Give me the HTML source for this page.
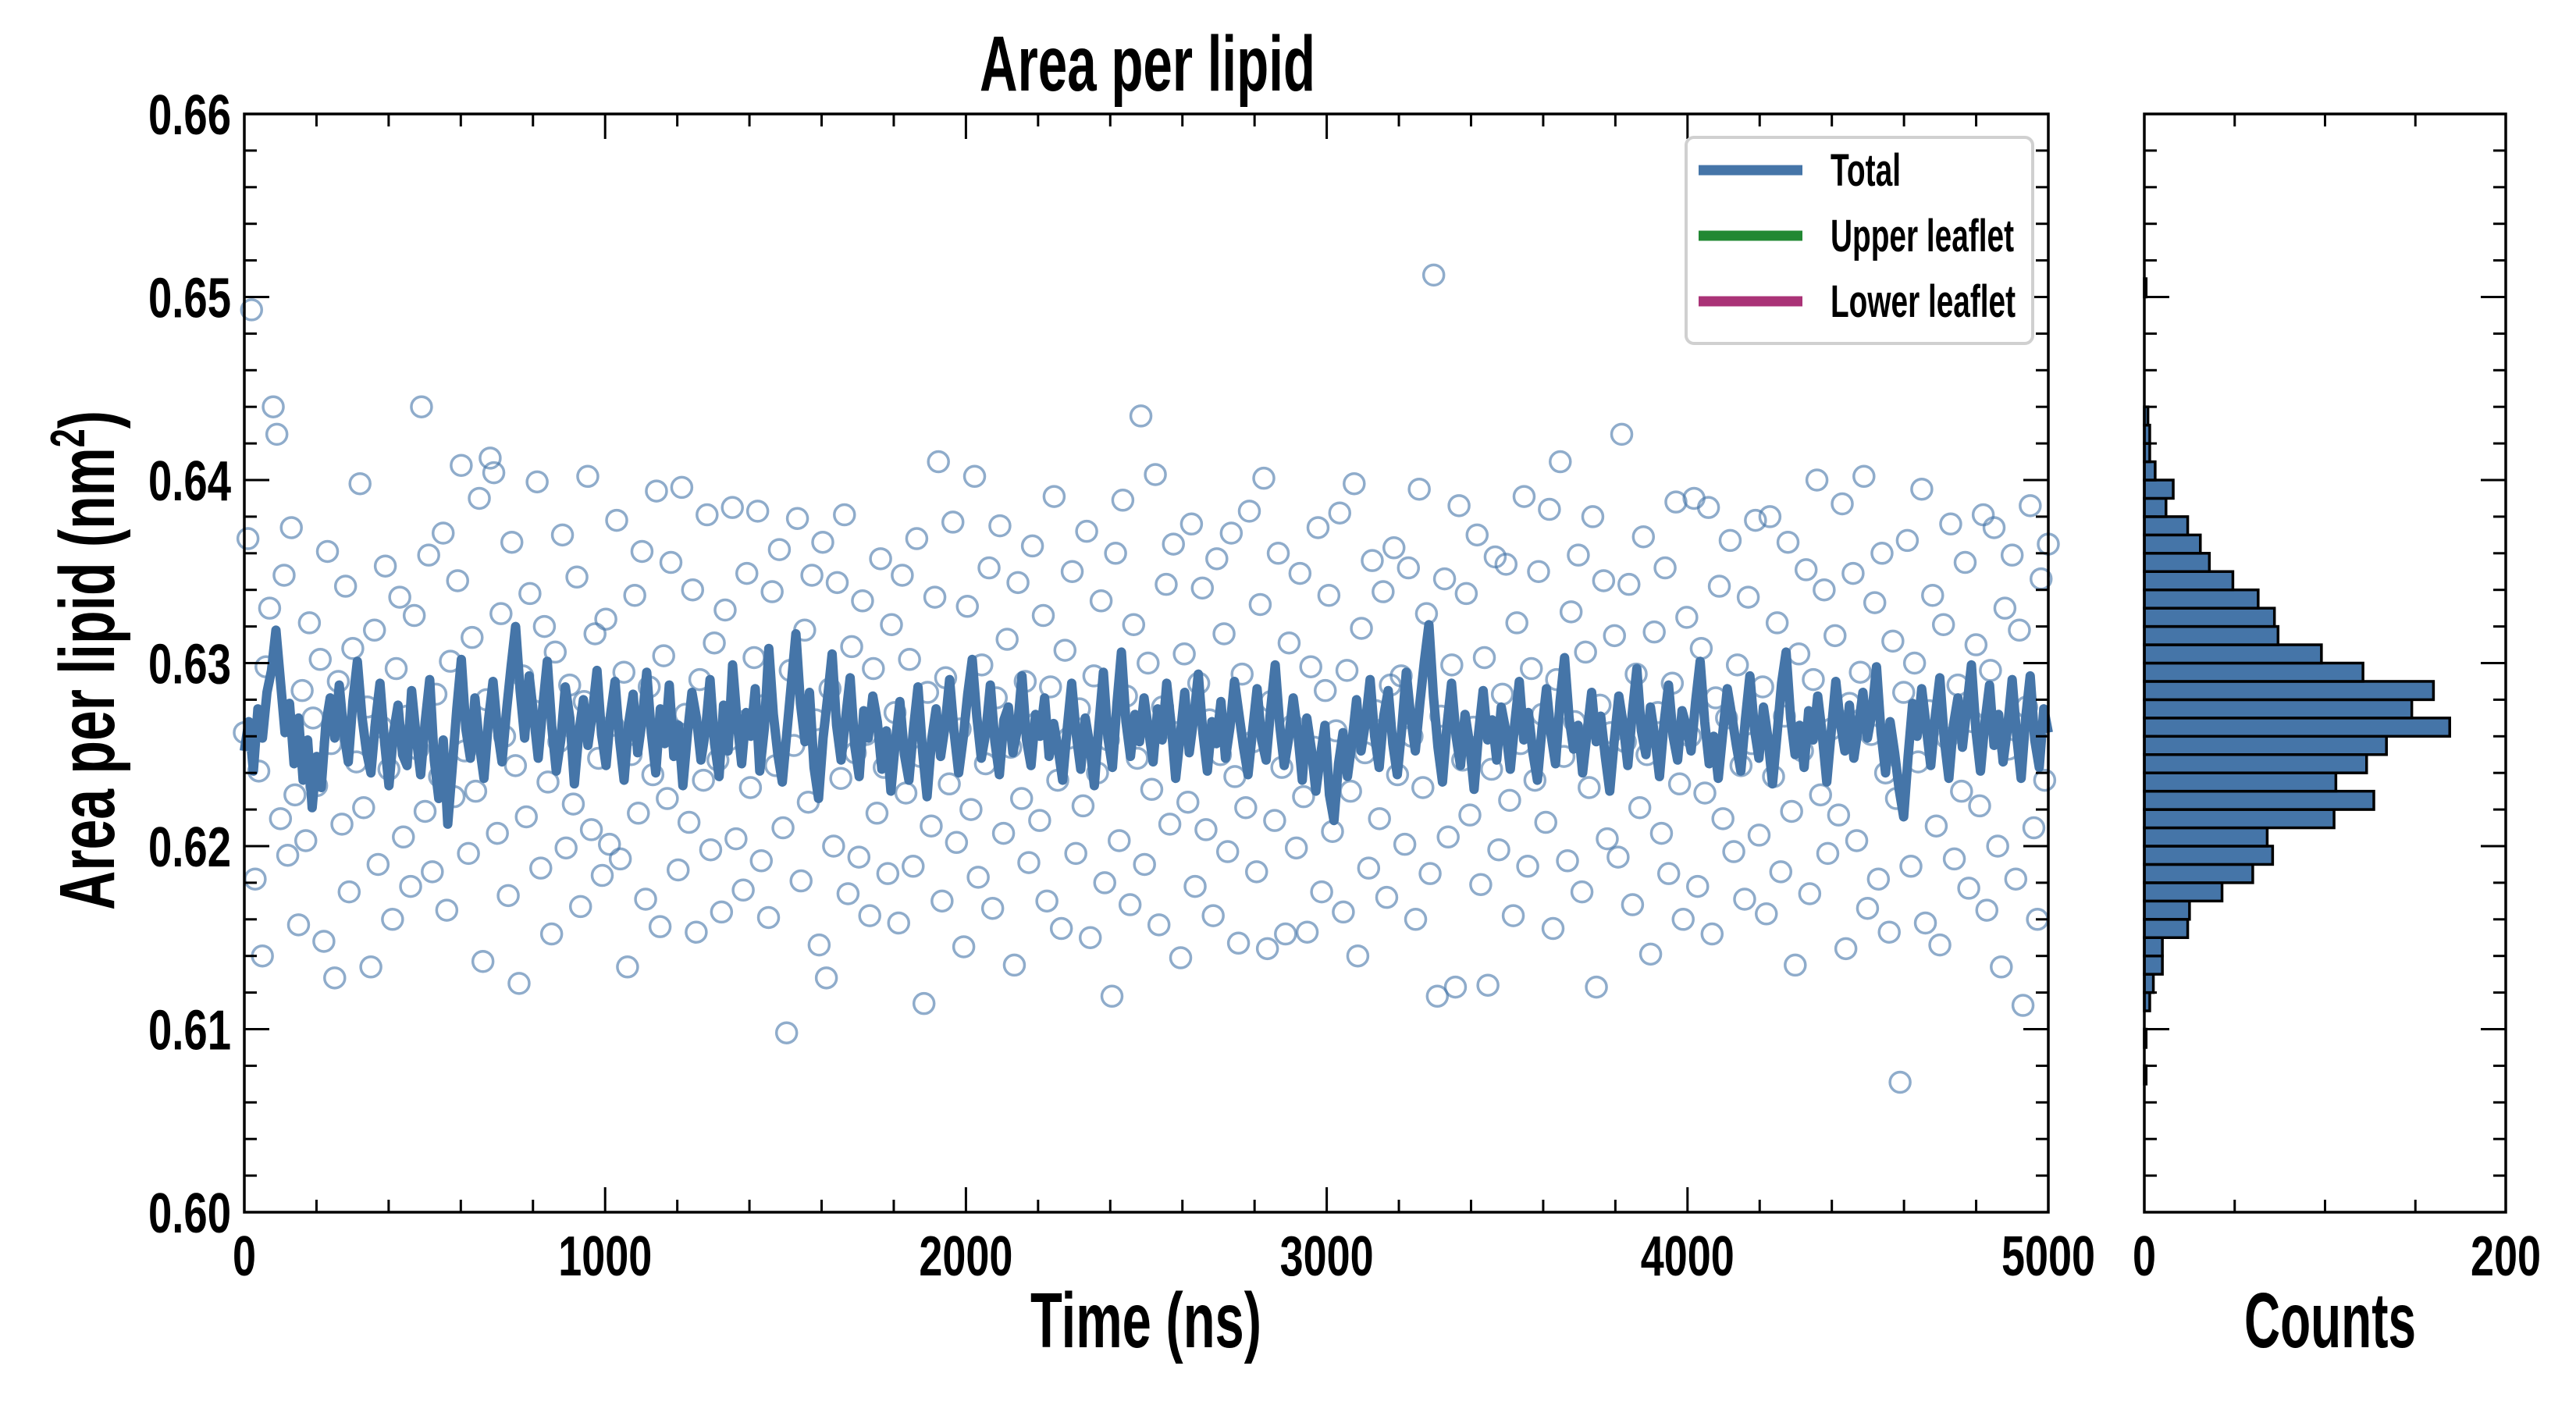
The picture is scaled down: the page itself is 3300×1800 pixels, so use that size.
<!DOCTYPE html>
<html><head><meta charset="utf-8">
<style>
html,body{margin:0;padding:0;background:#fff;}
svg{display:block;}
text{font-family:"Liberation Sans Narrow","Liberation Sans",sans-serif;font-weight:bold;fill:#000;}
</style></head>
<body>
<svg id="chart" width="3300" height="1800" viewBox="0 0 3300 1800" xmlns="http://www.w3.org/2000/svg">
<rect width="3300" height="1800" fill="#fff"/>
<g id="scatter"></g>
<g id="line"></g>
<g id="hist"></g>
<g id="axes"></g>
<text x="1470" y="116" text-anchor="middle" font-size="100" textLength="430" lengthAdjust="spacingAndGlyphs">Area per lipid</text>
<text x="1468" y="1726" text-anchor="middle" font-size="100" textLength="296" lengthAdjust="spacingAndGlyphs">Time (ns)</text>
<text x="2985" y="1726" text-anchor="middle" font-size="100" textLength="220" lengthAdjust="spacingAndGlyphs">Counts</text>
<text transform="translate(146,846) rotate(-90)" text-anchor="middle" font-size="100" textLength="640" lengthAdjust="spacingAndGlyphs">Area per lipid (nm<tspan font-size="62" dy="-38">2</tspan><tspan dy="38">)</tspan></text>
<g>
<rect x="2160" y="176" width="444" height="264" rx="10" fill="#fff" stroke="#d0d0d0" stroke-width="4"/>
<g><line x1="2176" y1="218" x2="2309" y2="218" stroke="#4575a8" stroke-width="13"/><text x="2345" y="238" font-size="58" textLength="90" lengthAdjust="spacingAndGlyphs">Total</text></g>
<g><line x1="2176" y1="302" x2="2309" y2="302" stroke="#228833" stroke-width="13"/><text x="2345" y="322" font-size="58" textLength="235" lengthAdjust="spacingAndGlyphs">Upper leaflet</text></g>
<g><line x1="2176" y1="386" x2="2309" y2="386" stroke="#aa3377" stroke-width="13"/><text x="2345" y="406" font-size="58" textLength="237" lengthAdjust="spacingAndGlyphs">Lower leaflet</text></g>
</g>
</svg>
<script>
const lineValues = [
0.6252,0.6268,0.6241,0.6275,0.6259,0.6284,0.6296,0.6318,0.6290,0.6262,0.6278,0.6245,0.6270,0.6236,0.6258,0.6221,0.6249,0.6232,0.6266,0.6281,
0.6259,0.6288,0.6262,0.6246,0.6279,0.6301,0.6271,0.6252,0.6240,0.6268,0.6289,0.6257,0.6233,0.6262,0.6277,0.6250,0.6244,0.6285,0.6260,0.6239,
0.6268,0.6291,0.6247,0.6226,0.6258,0.6212,0.6243,0.6275,0.6302,0.6264,0.6248,0.6281,0.6255,0.6237,0.6269,0.6290,0.6263,0.6246,0.6274,0.6298,
0.6320,0.6285,0.6259,0.6293,0.6271,0.6248,0.6276,0.6301,0.6265,0.6241,0.6258,0.6287,0.6270,0.6234,0.6262,0.6280,0.6255,0.6273,0.6296,0.6261,
0.6244,0.6272,0.6290,0.6258,0.6236,0.6267,0.6283,0.6251,0.6269,0.6295,0.6262,0.6240,0.6275,0.6256,0.6288,0.6249,0.6266,0.6233,0.6261,0.6284,
0.6270,0.6247,0.6263,0.6291,0.6256,0.6238,0.6277,0.6252,0.6299,0.6268,0.6245,0.6273,0.6260,0.6286,0.6241,0.6264,0.6308,0.6272,0.6250,0.6235,
0.6262,0.6289,0.6316,0.6278,0.6257,0.6284,0.6243,0.6226,0.6259,0.6281,0.6305,0.6266,0.6247,0.6270,0.6292,0.6255,0.6238,0.6274,0.6259,0.6282,
0.6268,0.6242,0.6263,0.6230,0.6257,0.6279,0.6250,0.6236,0.6264,0.6287,0.6252,0.6227,0.6258,0.6275,0.6249,0.6266,0.6291,0.6262,0.6240,0.6259,
0.6283,0.6302,0.6271,0.6248,0.6262,0.6288,0.6257,0.6239,0.6269,0.6276,0.6251,0.6264,0.6293,0.6258,0.6244,0.6272,0.6260,0.6281,0.6249,0.6267,
0.6253,0.6236,0.6264,0.6289,0.6261,0.6242,0.6270,0.6255,0.6233,0.6266,0.6295,0.6259,0.6243,0.6278,0.6306,0.6268,0.6249,0.6272,0.6257,0.6281,
0.6263,0.6246,0.6275,0.6258,0.6289,0.6266,0.6237,0.6260,0.6284,0.6251,0.6270,0.6294,0.6262,0.6241,0.6268,0.6256,0.6279,0.6248,0.6265,0.6290,
0.6272,0.6254,0.6239,0.6263,0.6286,0.6258,0.6247,0.6275,0.6299,0.6266,0.6244,0.6259,0.6281,0.6262,0.6236,0.6270,0.6253,0.6230,0.6249,0.6266,
0.6228,0.6214,0.6245,0.6262,0.6238,0.6257,0.6280,0.6252,0.6268,0.6291,0.6260,0.6243,0.6271,0.6285,0.6256,0.6239,0.6264,0.6295,0.6270,0.6252,
0.6278,0.6301,0.6321,0.6282,0.6254,0.6235,0.6266,0.6289,0.6260,0.6244,0.6272,0.6256,0.6231,0.6262,0.6285,0.6258,0.6269,0.6247,0.6276,0.6263,
0.6242,0.6267,0.6290,0.6258,0.6273,0.6251,0.6236,0.6264,0.6286,0.6261,0.6245,0.6279,0.6303,0.6270,0.6253,0.6266,0.6240,0.6262,0.6284,0.6257,
0.6271,0.6249,0.6230,0.6258,0.6282,0.6266,0.6244,0.6273,0.6297,0.6263,0.6250,0.6276,0.6259,0.6238,0.6267,0.6288,0.6260,0.6247,0.6274,0.6265,
0.6252,0.6279,0.6301,0.6268,0.6245,0.6260,0.6237,0.6262,0.6286,0.6271,0.6255,0.6241,0.6269,0.6293,0.6264,0.6248,0.6276,0.6259,0.6234,0.6261,
0.6289,0.6306,0.6270,0.6250,0.6266,0.6243,0.6274,0.6258,0.6282,0.6261,0.6235,0.6263,0.6290,0.6267,0.6252,0.6277,0.6248,0.6265,0.6284,0.6259,
0.6273,0.6298,0.6262,0.6240,0.6268,0.6251,0.6231,0.6216,0.6249,0.6278,0.6260,0.6286,0.6265,0.6244,0.6271,0.6292,0.6258,0.6237,0.6266,0.6281,
0.6254,0.6276,0.6299,0.6263,0.6241,0.6268,0.6288,0.6255,0.6272,0.6246,0.6265,0.6291,0.6260,0.6237,0.6270,0.6293,0.6258,0.6243,0.6275,0.6262];
const scatterValues = [
0.6262,0.6368,0.6493,0.6182,0.6241,0.6140,0.6298,0.6330,0.6440,0.6425,0.6215,0.6348,0.6195,0.6374,0.6228,0.6157,0.6285,0.6203,0.6322,0.6270,
0.6233,0.6302,0.6148,0.6361,0.6256,0.6128,0.6290,0.6212,0.6342,0.6175,0.6308,0.6246,0.6398,0.6221,0.6276,0.6134,0.6318,0.6190,0.6265,0.6353,
0.6242,0.6160,0.6297,0.6336,0.6205,0.6271,0.6178,0.6326,0.6253,0.6440,0.6219,0.6359,0.6186,0.6283,0.6238,0.6371,0.6165,0.6301,0.6227,0.6345,
0.6408,0.6252,0.6196,0.6314,0.6230,0.6390,0.6137,0.6280,0.6412,0.6404,0.6207,0.6327,0.6260,0.6173,0.6366,0.6244,0.6125,0.6293,0.6216,0.6338,
0.6274,0.6399,0.6188,0.6320,0.6235,0.6152,0.6306,0.6257,0.6370,0.6199,0.6288,0.6223,0.6347,0.6167,0.6279,0.6402,0.6209,0.6316,0.6248,0.6184,
0.6324,0.6201,0.6266,0.6378,0.6193,0.6295,0.6134,0.6250,0.6337,0.6218,0.6361,0.6171,0.6287,0.6239,0.6394,0.6156,0.6304,0.6226,0.6355,0.6263,
0.6187,0.6396,0.6272,0.6213,0.6340,0.6153,0.6291,0.6236,0.6381,0.6198,0.6311,0.6247,0.6164,0.6329,0.6258,0.6385,0.6204,0.6268,0.6176,0.6349,
0.6232,0.6303,0.6383,0.6192,0.6277,0.6161,0.6339,0.6244,0.6362,0.6210,0.6098,0.6296,0.6255,0.6379,0.6181,0.6318,0.6224,0.6348,0.6269,0.6146,
0.6366,0.6128,0.6286,0.6200,0.6344,0.6237,0.6381,0.6174,0.6309,0.6251,0.6194,0.6334,0.6261,0.6162,0.6297,0.6218,0.6357,0.6243,0.6185,0.6321,
0.6273,0.6158,0.6348,0.6229,0.6302,0.6189,0.6368,0.6249,0.6114,0.6284,0.6211,0.6336,0.6410,0.6170,0.6292,0.6234,0.6377,0.6202,0.6264,0.6145,
0.6331,0.6220,0.6402,0.6183,0.6299,0.6245,0.6352,0.6166,0.6281,0.6375,0.6207,0.6313,0.6254,0.6135,0.6344,0.6226,0.6290,0.6191,0.6364,0.6267,
0.6214,0.6326,0.6170,0.6287,0.6391,0.6236,0.6155,0.6307,0.6259,0.6350,0.6196,0.6275,0.6222,0.6372,0.6150,0.6293,0.6240,0.6334,0.6180,0.6258,
0.6118,0.6360,0.6203,0.6389,0.6282,0.6168,0.6321,0.6248,0.6435,0.6190,0.6300,0.6231,0.6403,0.6157,0.6276,0.6343,0.6212,0.6365,0.6262,0.6139,
0.6305,0.6224,0.6376,0.6178,0.6289,0.6341,0.6209,0.6269,0.6162,0.6357,0.6250,0.6316,0.6197,0.6371,0.6238,0.6147,0.6294,0.6221,0.6383,0.6257,
0.6186,0.6332,0.6401,0.6144,0.6279,0.6214,0.6360,0.6243,0.6152,0.6311,0.6266,0.6199,0.6349,0.6227,0.6153,0.6298,0.6254,0.6374,0.6175,0.6285,
0.6337,0.6208,0.6263,0.6382,0.6164,0.6296,0.6230,0.6398,0.6140,0.6319,0.6251,0.6188,0.6356,0.6274,0.6215,0.6339,0.6172,0.6288,0.6363,0.6239,
0.6293,0.6201,0.6352,0.6260,0.6160,0.6395,0.6232,0.6327,0.6185,0.6512,0.6118,0.6271,0.6346,0.6205,0.6299,0.6123,0.6386,0.6247,0.6338,0.6217,
0.6265,0.6370,0.6179,0.6303,0.6124,0.6242,0.6358,0.6198,0.6283,0.6354,0.6225,0.6162,0.6322,0.6256,0.6391,0.6189,0.6297,0.6236,0.6350,0.6272,
0.6213,0.6384,0.6155,0.6291,0.6410,0.6249,0.6192,0.6328,0.6268,0.6359,0.6175,0.6306,0.6232,0.6380,0.6123,0.6277,0.6345,0.6204,0.6262,0.6315,
0.6194,0.6425,0.6257,0.6343,0.6168,0.6294,0.6221,0.6369,0.6250,0.6141,0.6317,0.6273,0.6207,0.6352,0.6185,0.6289,0.6388,0.6234,0.6160,0.6325,
0.6260,0.6390,0.6178,0.6308,0.6229,0.6385,0.6152,0.6281,0.6342,0.6215,0.6270,0.6367,0.6197,0.6299,0.6244,0.6171,0.6336,0.6256,0.6378,0.6206,
0.6287,0.6163,0.6380,0.6238,0.6322,0.6186,0.6271,0.6366,0.6219,0.6135,0.6305,0.6252,0.6351,0.6174,0.6291,0.6400,0.6228,0.6340,0.6196,0.6264,
0.6315,0.6217,0.6387,0.6144,0.6278,0.6349,0.6203,0.6295,0.6402,0.6166,0.6261,0.6333,0.6182,0.6360,0.6240,0.6153,0.6312,0.6226,0.6071,0.6284,
0.6367,0.6189,0.6300,0.6246,0.6395,0.6158,0.6274,0.6337,0.6211,0.6146,0.6321,0.6259,0.6376,0.6193,0.6288,0.6230,0.6355,0.6177,0.6268,0.6310,
0.6222,0.6381,0.6165,0.6296,0.6374,0.6200,0.6134,0.6330,0.6253,0.6359,0.6182,0.6318,0.6113,0.6276,0.6386,0.6210,0.6160,0.6346,0.6236,0.6365];
const histBinStart = 0.6070;
const histBinWidth = 0.001;
const histCounts = [1,0,1,0,3,5,10,10,24,25,43,60,71,68,105,127,106,123,134,169,148,160,121,98,74,72,63,49,36,31,24,12,16,6,3,3,2,0,0,0,0,0,0,1];
const yTickLabels = ["0.60","0.61","0.62","0.63","0.64","0.65","0.66"];
const xTickLabels = ["0","1000","2000","3000","4000","5000"];
const histTickLabels = ["0","200"];

const NS = "http://www.w3.org/2000/svg";
const P = {l:313, r:2624, t:146, b:1553};
const H = {l:2747, r:3210};
const tMax = 5000, yMin = 0.60, yMax = 0.66, cMax = 200;
const xScale = v => P.l + (v / tMax) * (P.r - P.l);
const yScale = v => P.b - (v - yMin) / (yMax - yMin) * (P.b - P.t);
const cScale = v => H.l + (v / cMax) * (H.r - H.l);
function mk(tag, attrs, parent){const e=document.createElementNS(NS,tag);for(const k in attrs)e.setAttribute(k,attrs[k]);parent.appendChild(e);return e;}

const sg = document.getElementById('scatter');
scatterValues.forEach((v,i)=>{
  const t = i * tMax / (scatterValues.length - 1);
  const c = mk('circle',{cx:xScale(t),cy:yScale(v),r:13,fill:'none',stroke:'#4575a8','stroke-opacity':0.6,'stroke-width':3.5},sg);
  
  
});
const lg = document.getElementById('line');
const pts = lineValues.map((v,i)=>xScale(i*tMax/(lineValues.length-1)).toFixed(1)+','+yScale(v).toFixed(1)).join(' ');
const pl = mk('polyline',{points:pts,fill:'none',stroke:'#4575a8','stroke-width':12,'stroke-linejoin':'round'},lg);


const hg = document.getElementById('hist');
histCounts.forEach((c,i)=>{
  if(c<=0) return;
  const lo = histBinStart + i*histBinWidth, hi = lo + histBinWidth;
  const r = mk('rect',{x:H.l,y:yScale(hi),width:cScale(c)-H.l,height:yScale(lo)-yScale(hi),fill:'#4575a8',stroke:'#000','stroke-width':3.5},hg);
  
  
});
const ag = document.getElementById('axes');
function frame(l,r){mk('rect',{x:l,y:P.t,width:r-l,height:P.b-P.t,fill:'none',stroke:'#000','stroke-width':3.5},ag);}
frame(P.l,P.r); frame(H.l,H.r);
function yTicks(l,r){
  for(let k=0;k<=30;k++){
    const v=yMin+k*0.002, y=yScale(v), len=(k%5===0)?32:16;
    mk('line',{x1:l,y1:y,x2:l+len,y2:y,stroke:'#000','stroke-width':3},ag);
    mk('line',{x1:r,y1:y,x2:r-len,y2:y,stroke:'#000','stroke-width':3},ag);
  }
}
yTicks(P.l,P.r); yTicks(H.l,H.r);
yTickLabels.forEach((s,i)=>{
  const tx = mk('text',{x:296,y:yScale(yMin+i*0.01)+26,'text-anchor':'end','font-size':72,textLength:106,lengthAdjust:'spacingAndGlyphs'},ag);
  tx.textContent=s;
  
  
});
for(let k=0;k<=25;k++){
  const x=xScale(k*200), len=(k%5===0)?32:16;
  mk('line',{x1:x,y1:P.b,x2:x,y2:P.b-len,stroke:'#000','stroke-width':3},ag);
  mk('line',{x1:x,y1:P.t,x2:x,y2:P.t+len,stroke:'#000','stroke-width':3},ag);
}
xTickLabels.forEach((s,i)=>{
  const tx = mk('text',{x:xScale(i*1000),y:1634,'text-anchor':'middle','font-size':72,textLength:s.length*30,lengthAdjust:'spacingAndGlyphs'},ag);
  tx.textContent=s;
  
  
});
for(let k=0;k<=4;k++){
  const x=cScale(k*50), len=16;
  mk('line',{x1:x,y1:P.b,x2:x,y2:P.b-len,stroke:'#000','stroke-width':3},ag);
  mk('line',{x1:x,y1:P.t,x2:x,y2:P.t+len,stroke:'#000','stroke-width':3},ag);
}
histTickLabels.forEach((s,i)=>{
  const tx = mk('text',{x:cScale(i*200),y:1634,'text-anchor':'middle','font-size':72,textLength:s.length*30,lengthAdjust:'spacingAndGlyphs'},ag);
  tx.textContent=s;
  
  
});
</script>
</body></html>
